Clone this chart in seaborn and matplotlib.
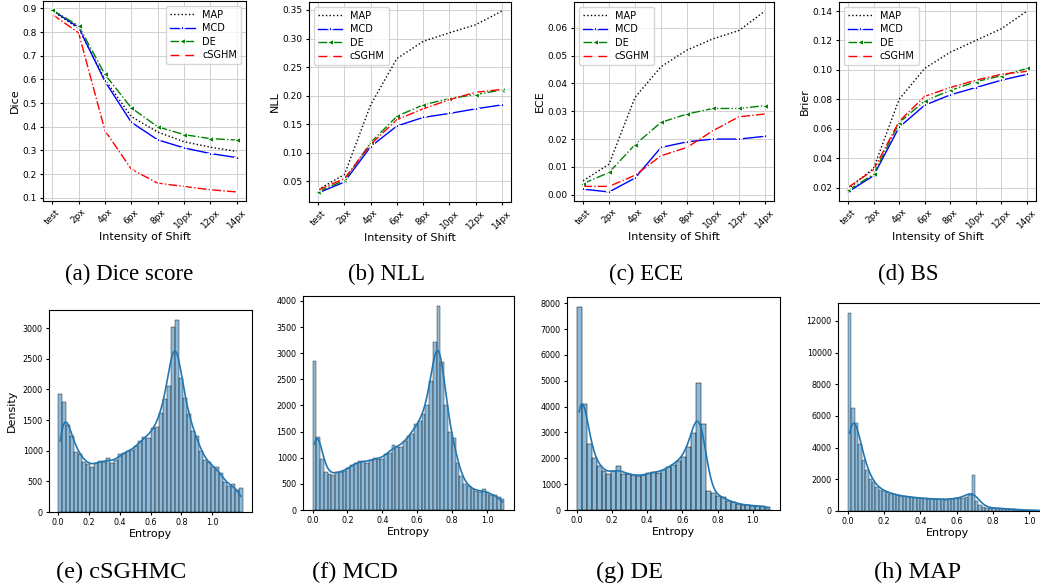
import numpy as np
import pandas as pd
import matplotlib
matplotlib.use("Agg")
import matplotlib.pyplot as plt
import seaborn as sns

# ---- top row: metrics vs. shift intensity ----
shifts = ["test", "2px", "4px", "6px", "8px", "10px", "12px", "14px"]
methods = ["MAP", "MCD", "DE", "cSGHM"]

dice_map = [0.890, 0.815, 0.600, 0.443, 0.378, 0.337, 0.314, 0.296]
dice_mcd = [0.893, 0.820, 0.592, 0.419, 0.345, 0.311, 0.287, 0.270]
dice_de = [0.893, 0.827, 0.621, 0.480, 0.400, 0.367, 0.350, 0.344]
dice_csghm = [0.875, 0.797, 0.384, 0.221, 0.162, 0.148, 0.134, 0.125]

nll_map = [0.036, 0.062, 0.184, 0.265, 0.295, 0.310, 0.324, 0.348]
nll_mcd = [0.030, 0.049, 0.111, 0.147, 0.162, 0.169, 0.177, 0.184]
nll_de = [0.032, 0.052, 0.118, 0.164, 0.184, 0.195, 0.202, 0.210]
nll_csghm = [0.035, 0.055, 0.115, 0.158, 0.177, 0.193, 0.206, 0.211]

ece_map = [0.005, 0.011, 0.035, 0.046, 0.052, 0.056, 0.059, 0.066]
ece_mcd = [0.002, 0.001, 0.006, 0.017, 0.019, 0.020, 0.020, 0.021]
ece_de = [0.004, 0.008, 0.018, 0.026, 0.029, 0.031, 0.031, 0.032]
ece_csghm = [0.003, 0.003, 0.007, 0.014, 0.017, 0.023, 0.028, 0.029]

brier_map = [0.019, 0.033, 0.080, 0.101, 0.112, 0.120, 0.128, 0.140]
brier_mcd = [0.017, 0.028, 0.061, 0.076, 0.083, 0.088, 0.093, 0.097]
brier_de = [0.018, 0.029, 0.064, 0.079, 0.086, 0.092, 0.096, 0.101]
brier_csghm = [0.020, 0.032, 0.065, 0.082, 0.088, 0.093, 0.097, 0.099]

# ---- bottom row: entropy histograms (bin counts) ----
csghmc_counts = [1920, 1790, 1420, 1240, 980, 950, 820, 790, 740, 800, 840, 810,
                 880, 800, 850, 940, 970, 1000, 1010, 1070, 1160, 1230, 1210, 1370,
                 1390, 1610, 1840, 2050, 3020, 3140, 2180, 1860, 1600, 1330, 1240, 1000,
                 850, 820, 730, 730, 640, 490, 420, 450, 360, 390]
mcd_counts = [2850, 1400, 970, 730, 690, 670, 730, 730, 740, 800, 860, 900, 930,
              940, 900, 960, 1000, 970, 970, 1080, 1100, 1250, 1200, 1210, 1320, 1420,
              1460, 1640, 1700, 1840, 2000, 2470, 3210, 3900, 2830, 2000, 1490, 1370,
              900, 650, 500, 450, 400, 370, 340, 400, 340, 290, 280, 250, 220]
de_counts = [7850, 4120, 2570, 2000, 1700, 1520, 1380, 1490, 1710, 1380, 1380, 1370,
             1300, 1340, 1430, 1470, 1440, 1530, 1680, 1760, 1900, 2060, 2440, 2990,
             4930, 3330, 750, 650, 550, 500, 350, 300, 250, 200, 180, 170, 160, 150, 120]
map_counts = [12500, 6500, 5550, 4250, 3200, 2600, 1990, 1800, 1500, 1350, 1250, 1200,
              1100, 1050, 1000, 950, 920, 900, 880, 850, 820, 800, 790, 780, 760, 750,
              750, 740, 720, 740, 760, 800, 800, 830, 900, 1000, 2300, 600, 350, 250,
              200, 200, 180, 170, 160, 150, 130, 110, 100, 80, 70, 60, 50, 40, 40, 30,
              30, 25]
hist_ranges = [(0, 1.2), (0, 1.1), (0, 1.1), (0, 1.1)]

W, H = 1040, 588
fig = plt.figure(figsize=(W / 100, H / 100), dpi=100)


def px_axes(l, t, r, b):
    return fig.add_axes([l / W, 1 - b / H, (r - l) / W, (b - t) / H])


styles = {
    "MAP": dict(color="k", ls=":", marker=None, ms=0),
    "MCD": dict(color="b", ls="-", marker="*", ms=4.5),
    "DE": dict(color="g", ls="-.", marker="<", ms=4),
    "cSGHM": dict(color="r", ls="-.", marker="2", ms=4.5),
}

top_data = [
    ("Dice", [dice_map, dice_mcd, dice_de, dice_csghm], "upper right"),
    ("NLL", [nll_map, nll_mcd, nll_de, nll_csghm], "upper left"),
    ("ECE", [ece_map, ece_mcd, ece_de, ece_csghm], "upper left"),
    ("Brier", [brier_map, brier_mcd, brier_de, brier_csghm], "upper left"),
]
top_boxes = [(43, 1, 246, 201), (309, 2, 511, 202), (574, 2, 774, 201), (839, 2, 1036, 201)]

for (ylab, series, loc), box in zip(top_data, top_boxes):
    ax = px_axes(*box)
    for m, vals in zip(methods, series):
        st = styles[m]
        sns.lineplot(x=shifts, y=vals, ax=ax, label=m, color=st["color"], linewidth=1.0)
        line = ax.lines[-1]
        line.set_linestyle(st["ls"])
        if st["marker"]:
            line.set_marker(st["marker"])
            line.set_markersize(st["ms"])
    ax.grid(True, color="#d0d0d0", linewidth=0.7)
    ax.set_axisbelow(True)
    ax.set_ylabel(ylab, fontsize=8, labelpad=2)
    ax.set_xlabel("Intensity of Shift", fontsize=8, labelpad=2)
    ax.tick_params(axis="both", labelsize=6.5, length=2.5, pad=2)
    ax.tick_params(axis="x", rotation=45)
    ax.legend(loc=loc, fontsize=7, handlelength=2.5, borderpad=0.4, labelspacing=0.35)

bottom_counts = [csghmc_counts, mcd_counts, de_counts, map_counts]
bottom_boxes = [(49, 310, 252, 512), (303, 296, 514, 510), (567, 297, 780, 510), (838, 303, 1057, 511)]
bw = [0.22, 0.22, 0.22, 0.24]

for i, (counts, rng, box) in enumerate(zip(bottom_counts, hist_ranges, bottom_boxes)):
    ax = px_axes(*box)
    n = len(counts)
    width = (rng[1] - rng[0]) / n
    centers = rng[0] + width * (np.arange(n) + 0.5)
    df = pd.DataFrame({"entropy": centers, "count": counts})
    sns.histplot(data=df, x="entropy", weights="count", binwidth=width, binrange=rng,
                 kde=True, kde_kws={"bw_adjust": bw[i], "cut": 0},
                 line_kws={"linewidth": 1.2}, ax=ax)
    ax.set_xticks([0.0, 0.2, 0.4, 0.6, 0.8, 1.0])
    ax.set_xlabel("Entropy", fontsize=8, labelpad=1)
    ax.set_ylabel("Density" if i == 0 else "", fontsize=8)
    ax.tick_params(axis="both", labelsize=5.8, length=2.5, pad=2)

serif = ["Liberation Serif", "DejaVu Serif"]
top_caps = [("(a) Dice score", 129), ("(b) NLL", 386), ("(c) ECE", 646), ("(d) BS", 908)]
bot_caps = [("(e) cSGHMC", 121), ("(f) MCD", 355), ("(g) DE", 630), ("(h) MAP", 918)]
for txt, x in top_caps:
    fig.text(x / W, 1 - 274 / H, txt, ha="center", va="center", fontsize=16.5, family=serif)
for txt, x in bot_caps:
    fig.text(x / W, 1 - 572 / H, txt, ha="center", va="center", fontsize=17.5, family=serif)

fig.savefig("out.png", dpi=100)
